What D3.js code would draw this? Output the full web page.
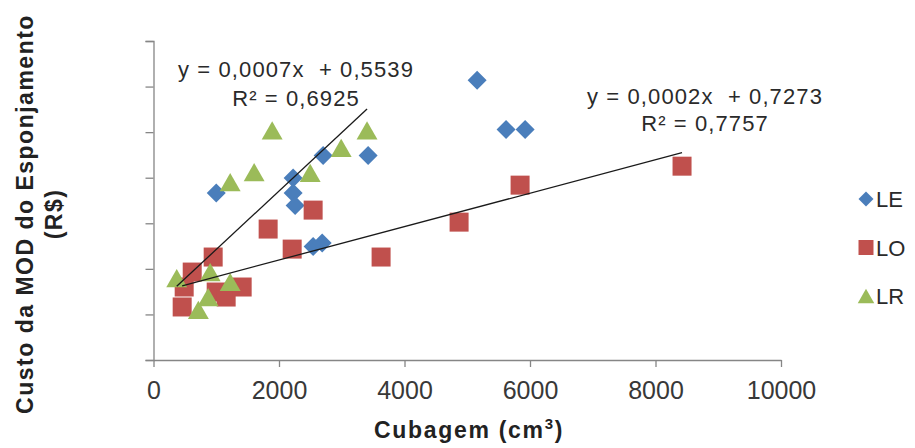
<!DOCTYPE html>
<html>
<head>
<meta charset="utf-8">
<script src="https://cdn.jsdelivr.net/npm/d3@7"></script>
<style>
  html, body { margin: 0; padding: 0; background: #fff; }
  svg { display: block; font-family: "Liberation Sans", Arial, sans-serif; }
</style>
</head>
<body>
<svg id="chart" width="915" height="448"></svg>
<script>
// Cubagem (cm³) and labour cost of the sponging step, per group
const leX = [1000, 2225, 2225, 2257, 2703, 3420, 5157, 5619, 5922, 2544, 2688];
const leY = [1.93, 2.11, 1.93, 1.78, 2.38, 2.38, 3.28, 2.69, 2.69, 1.29, 1.33];

const loX = [457, 489, 617, 951, 999, 1158, 1413, 1827, 2210, 2544, 3627, 4870, 5842, 8423];
const loY = [0.565, 0.804, 0.983, 1.163, 0.744, 0.684, 0.804, 1.498, 1.258, 1.725, 1.163, 1.581, 2.024, 2.251];

const lrX = [370, 715, 871, 903, 1222, 1222, 1604, 1891, 2497, 2991, 3403];
const lrY = [0.911, 0.529, 0.684, 0.983, 0.864, 2.06, 2.18, 2.68, 2.17, 2.47, 2.68];

const seriesNames = ["LE", "LO", "LR"];

// Linear trendlines (as fitted): LR and LO
const trendSeries = ["LR", "LO"];
const trendSlope = [0.0007, 0.0002];
const trendIntercept = [0.5539, 0.7273];
const trendR2 = [0.6925, 0.7757];

const xTicks = [0, 2000, 4000, 6000, 8000, 10000];
const xDomain = [0, 10000];
const yDomain = [-0.07, 3.75];
const yDivisions = 7;

const colors = { LE: "#4A7EBB", LO: "#C0504D", LR: "#9BBB59" };

const svg = d3.select("#chart");
const x = d3.scaleLinear().domain(xDomain).range([153.5, 781]);
const y = d3.scaleLinear().domain(yDomain).range([360, 41]);

const axisColor = "#868686";

// Axes
const yTickVals = d3.range(yDivisions + 1).map(i => yDomain[0] + i * (yDomain[1] - yDomain[0]) / yDivisions);
const gy = svg.append("g").attr("transform", `translate(${x(0)},0)`)
  .call(d3.axisLeft(y).tickValues(yTickVals).tickSize(8).tickFormat(""));
gy.select(".domain").attr("stroke", axisColor).attr("stroke-width", 1.3);
gy.selectAll(".tick line").attr("stroke", axisColor).attr("stroke-width", 1.3);

const gx = svg.append("g").attr("transform", `translate(0,${y.range()[0]})`)
  .call(d3.axisBottom(x).tickValues(xTicks).tickSize(7).tickSizeOuter(0).tickPadding(14).tickFormat(d3.format("d")));
gx.select(".domain").attr("stroke", axisColor).attr("stroke-width", 1.3);
gx.selectAll(".tick line").attr("stroke", axisColor).attr("stroke-width", 1.3);
gx.selectAll(".tick text")
  .attr("font-size", 25).attr("fill", "#383838")
  .attr("font-family", "'Liberation Sans', Arial, sans-serif");

// Axis titles
svg.append("text")
  .attr("x", 469).attr("y", 438)
  .attr("text-anchor", "middle")
  .attr("font-size", 23).attr("font-weight", "bold").attr("letter-spacing", 1.7)
  .attr("fill", "#222")
  .text("Cubagem (cm")
  .append("tspan").attr("font-size", 15).attr("dy", -9).text("3")
  .clone().attr("font-size", 23).attr("dy", 9).text(")");

const yTitle = svg.append("text")
  .attr("transform", "translate(0,214) rotate(-90)")
  .attr("text-anchor", "middle")
  .attr("font-size", 23).attr("font-weight", "bold").attr("letter-spacing", 1.5)
  .attr("fill", "#222");
yTitle.append("tspan").attr("x", 0).attr("y", 33).text("Custo da MOD do Esponjamento");
yTitle.append("tspan").attr("x", 0).attr("y", 62).text("(R$)");

// Marker shapes
function markerPath(name, s) {
  const p = d3.path();
  if (name === "LE") {
    const r = s * 0.5;
    p.moveTo(0, -r); p.lineTo(r, 0); p.lineTo(0, r); p.lineTo(-r, 0); p.closePath();
  } else if (name === "LO") {
    const h = s * 0.5;
    p.rect(-h, -h, s, s);
  } else {
    const w = s * 0.55, h = s * 0.48;
    p.moveTo(0, -h); p.lineTo(w, h); p.lineTo(-w, h); p.closePath();
  }
  return p.toString();
}

const seriesData = {
  LE: leX.map((v, i) => ({ x: v, y: leY[i] })),
  LO: loX.map((v, i) => ({ x: v, y: loY[i] })),
  LR: lrX.map((v, i) => ({ x: v, y: lrY[i] }))
};
const markerSize = { LE: 19, LO: 19, LR: 19 };

seriesNames.forEach(name => {
  svg.append("g").selectAll("path").data(seriesData[name]).join("path")
    .attr("transform", d => `translate(${x(d.x)},${y(d.y)})`)
    .attr("d", markerPath(name, markerSize[name]))
    .attr("fill", colors[name]);
});

// Trendlines across each series' x extent
const fmt = v => v.toFixed(4).replace(".", ",");
const labelPos = { LR: [296, 77, 106], LO: [705, 104, 131] };
trendSeries.forEach((name, i) => {
  const [x0, x1] = d3.extent(seriesData[name], d => d.x);
  const f = v => trendSlope[i] * v + trendIntercept[i];
  svg.append("line")
    .attr("x1", x(x0)).attr("y1", y(f(x0)))
    .attr("x2", x(x1)).attr("y2", y(f(x1)))
    .attr("stroke", "#1a1a1a").attr("stroke-width", 1.3);
  const [lx, ly1, ly2] = labelPos[name];
  const t = svg.append("text").attr("text-anchor", "middle")
    .attr("font-size", 22).attr("fill", "#2a2a2a").attr("letter-spacing", 1.1);
  t.append("tspan").attr("x", lx).attr("y", ly1)
    .attr("xml:space", "preserve")
    .text(`y = ${fmt(trendSlope[i])}x  + ${fmt(trendIntercept[i])}`);
  t.append("tspan").attr("x", lx).attr("y", ly2)
    .text(`R² = ${fmt(trendR2[i])}`);
});

// Legend
const legend = svg.append("g");
seriesNames.forEach((name, i) => {
  const cy = 199 + i * 48.5;
  legend.append("path")
    .attr("transform", `translate(866,${cy})`)
    .attr("d", markerPath(name, 15))
    .attr("fill", colors[name]);
  legend.append("text")
    .attr("x", 876).attr("y", cy + 8)
    .attr("font-size", 22).attr("fill", "#2a2a2a")
    .text(name);
});
</script>
</body>
</html>
